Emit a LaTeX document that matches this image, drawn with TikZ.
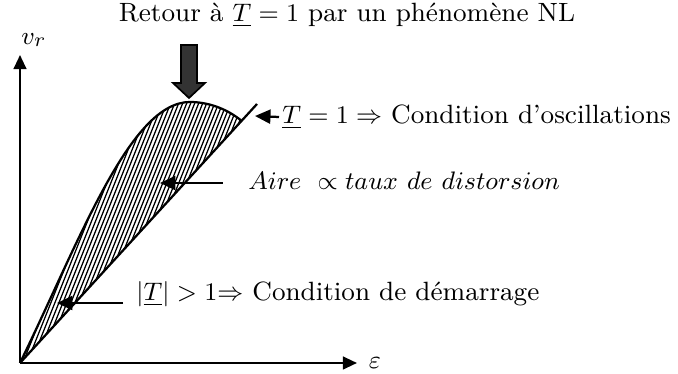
\documentclass[tikz,border=0pt]{standalone}
\usepackage{amsmath}
\usepackage{amssymb}
\usetikzlibrary{arrows.meta, positioning, calc}

\begin{document}
\begin{tikzpicture}[x=0.0125cm,y=-0.0125cm,
  lbl/.style={font=\fontsize{9.4}{11}\selectfont,inner sep=1pt},
  axis/.style={-{Triangle[length=5pt,width=4.5pt]},line width=0.8pt},
  arr/.style={-{Triangle[length=5.5pt,width=5pt]},line width=0.8pt},
  hatch/.style={line width=0.45pt},
  bigarrow/.style={fill=black!80,draw=black,line width=0.6pt}
]
\useasboundingbox (0,0) rectangle (678,374);

% Axes
\coordinate (O) at (20,363);
\coordinate (ytop) at (20,55);
\coordinate (xend) at (357,363);
\draw[axis] (O) -- (ytop);
\draw[axis] (O) -- (xend);
\node[lbl] (vr) at (34,40) {$v_r$};
\node[lbl,right=3pt of xend] (eps) {$\varepsilon$};

% Region between curve and line
\coordinate (lend) at (257,104);
\coordinate (peak) at (190,102);
\coordinate (meet) at ($(O)!0.935!(lend)$);
\begin{scope}
  \clip (O) .. controls (80,240) and (130,102) .. (peak)
            .. controls (207,102) and (226,108) .. (meet) -- cycle;
  \foreach \x in {-140,-136,...,260}
    \draw[hatch] (\x,370) -- ++(120,-300);
\end{scope}
\draw[line width=0.8pt] (O) .. controls (80,240) and (130,102) .. (peak)
                            .. controls (207,102) and (226,108) .. (meet);
\draw[line width=0.8pt] (O) -- (lend);

% Big arrow on top
\coordinate (tip) at (189,98);
\draw[bigarrow] (181,45) -- (197,45) -- (197,83) -- (205,83) -- (tip)
  -- (173,83) -- (181,83) -- cycle;

% Labels
\node[lbl] (retour) at (347,15) {Retour à $\underline{T}=1$ par un phénomène NL};
\node[lbl,anchor=west] (osc) at (279,117)
  {$\underline{T}=1 \Rightarrow$ Condition d’oscillations};
\node[lbl,anchor=west] (aire) at (245,181)
  {$Aire\ \propto taux\ de\ distorsion$};
\node[lbl,anchor=west] (demar) at (133,294)
  {$\left|\underline{T}\right| > 1{\Rightarrow}$ Condition de démarrage};

% Pointers
\coordinate (oscTip) at (255,116);
\coordinate (aireTip) at (160,183);
\coordinate (demarTip) at (57,303);
\draw[arr] (osc.west) -- (oscTip);
\draw[arr] ([xshift=-8pt]aire.west |- aireTip) -- (aireTip);
\draw[arr] ([shift={(-10,9)}]demar.west) -- (demarTip);

\end{tikzpicture}
\end{document}
